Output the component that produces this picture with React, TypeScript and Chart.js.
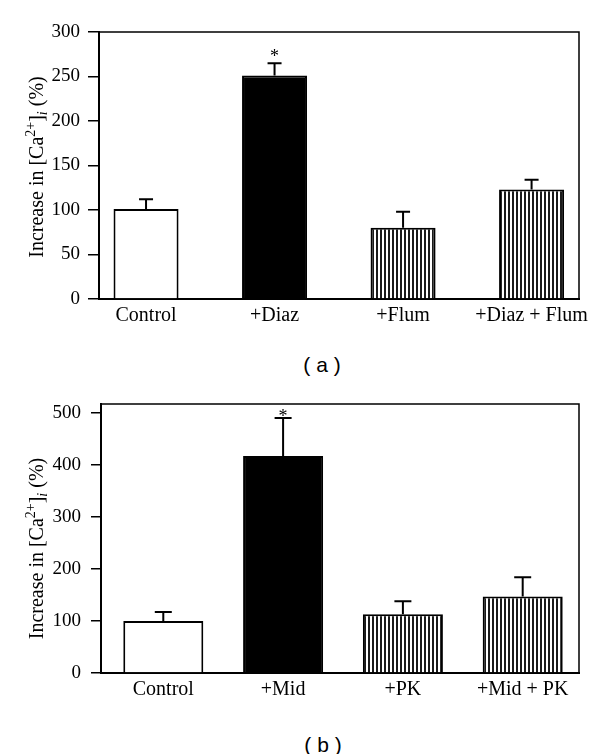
import React, { useEffect, useRef } from "react";
import { Chart, registerables } from "chart.js";

Chart.register(...registerables);

// ---------- Data ----------
const categoriesA = ["Control", "+Diaz", "+Flum", "+Diaz + Flum"];
const meansA = [101, 251, 80, 123];
const errorsA = [11, 14, 18, 11];
const starsA = [false, true, false, false];
const yTicksA = [0, 50, 100, 150, 200, 250, 300];

const categoriesB = ["Control", "+Mid", "+PK", "+Mid + PK"];
const meansB = [100, 417, 113, 147];
const errorsB = [17, 73, 25, 37];
const starsB = [false, true, false, false];
const yTicksB = [0, 100, 200, 300, 400, 500];

const fillKinds = ["white", "black", "hatch", "hatch"];

const SERIF = "'Liberation Serif', 'Times New Roman', serif";
const SANS = "'Liberation Sans', Arial, sans-serif";

type PanelCfg = {
  categories: string[];
  means: number[];
  errors: number[];
  stars: boolean[];
  yTicks: number[];
  yMax: number;
  xMin: number;
  xMax: number;
  barPct: number;
  capHalf: number;
  tickLen: number;
  tickPad: number;
  yAxisW: number;
  xAxisH: number;
  padTop: number;
  titleX: number;
  titleCY: number;
  starDy: number;
};

const panelA: PanelCfg = {
  categories: categoriesA,
  means: meansA,
  errors: errorsA,
  stars: starsA,
  yTicks: yTicksA,
  yMax: 300,
  xMin: -0.366,
  xMax: 3.369,
  barPct: 0.506,
  capHalf: 7,
  tickLen: 11,
  tickPad: 8,
  yAxisW: 99,
  xAxisH: 41,
  padTop: 32,
  titleX: 43,
  titleCY: 167,
  starDy: -1,
};

const panelB: PanelCfg = {
  categories: categoriesB,
  means: meansB,
  errors: errorsB,
  stars: starsB,
  yTicks: yTicksB,
  yMax: 517,
  xMin: -0.52,
  xMax: 3.47,
  barPct: 0.668,
  capHalf: 8.5,
  tickLen: 10,
  tickPad: 10,
  yAxisW: 101,
  xAxisH: 47,
  padTop: 24,
  titleX: 42.5,
  titleCY: 168.5,
  starDy: 4,
};

function makeHatch(): CanvasPattern | string {
  const c = document.createElement("canvas");
  c.width = 4;
  c.height = 4;
  const ctx = c.getContext("2d");
  if (!ctx) return "#888";
  ctx.fillStyle = "#ffffff";
  ctx.fillRect(0, 0, 4, 4);
  ctx.fillStyle = "#1a1a1a";
  ctx.fillRect(0, 0, 2, 4);
  return ctx.createPattern(c, "repeat") || "#888";
}

function buildChart(canvas: HTMLCanvasElement, p: PanelCfg) {
  const hatch = makeHatch();
  const fills = fillKinds.map((k) =>
    k === "hatch" ? hatch : k === "black" ? "#000000" : "#ffffff"
  );

  const errorPlugin = {
    id: "errorBars",
    afterDatasetsDraw(chart: any) {
      const ctx = chart.ctx;
      const meta = chart.getDatasetMeta(0);
      const y = chart.scales.y;
      ctx.save();
      ctx.strokeStyle = "#000";
      ctx.lineWidth = 2;
      meta.data.forEach((bar: any, i: number) => {
        const x = bar.x;
        const yb = y.getPixelForValue(p.means[i]);
        const yt = y.getPixelForValue(p.means[i] + p.errors[i]);
        ctx.beginPath();
        ctx.moveTo(x, yb);
        ctx.lineTo(x, yt);
        ctx.moveTo(x - p.capHalf, yt);
        ctx.lineTo(x + p.capHalf, yt);
        ctx.stroke();
        if (p.stars[i]) {
          ctx.fillStyle = "#000";
          ctx.font = `18px ${SERIF}`;
          ctx.textAlign = "center";
          ctx.textBaseline = "alphabetic";
          ctx.fillText("*", x, yt + p.starDy);
        }
      });
      ctx.restore();
    },
  };

  const framePlugin = {
    id: "frame",
    afterDraw(chart: any) {
      const { left, right, top, bottom } = chart.chartArea;
      const ctx = chart.ctx;
      ctx.save();
      ctx.strokeStyle = "#000";
      ctx.lineWidth = 1.5;
      ctx.beginPath();
      ctx.moveTo(left, top);
      ctx.lineTo(right, top);
      ctx.lineTo(right, bottom);
      ctx.stroke();
      ctx.restore();
    },
  };

  const titlePlugin = {
    id: "yTitle",
    afterDraw(chart: any) {
      const ctx = chart.ctx;
      const parts = [
        { t: "Increase in [Ca", font: `20px ${SERIF}`, dy: 0 },
        { t: "2+", font: `14px ${SERIF}`, dy: -8 },
        { t: "]", font: `20px ${SERIF}`, dy: 0 },
        { t: "i", font: `italic 14px ${SERIF}`, dy: 4 },
        { t: " (%)", font: `20px ${SERIF}`, dy: 0 },
      ];
      ctx.save();
      ctx.translate(p.titleX, p.titleCY);
      ctx.rotate(-Math.PI / 2);
      ctx.fillStyle = "#000";
      ctx.textBaseline = "alphabetic";
      ctx.textAlign = "left";
      let total = 0;
      const widths = parts.map((pt) => {
        ctx.font = pt.font;
        const w = ctx.measureText(pt.t).width;
        total += w;
        return w;
      });
      let x = -total / 2;
      parts.forEach((pt, i) => {
        ctx.font = pt.font;
        ctx.fillText(pt.t, x, pt.dy);
        x += widths[i];
      });
      ctx.restore();
    },
  };

  return new Chart(canvas, {
    type: "bar",
    data: {
      datasets: [
        {
          data: p.means.map((v, i) => ({ x: i, y: v })) as any,
          backgroundColor: fills as any,
          borderColor: "#000",
          borderWidth: 2,
          barPercentage: p.barPct,
          categoryPercentage: 1,
        },
      ],
    },
    options: {
      animation: false,
      responsive: false,
      events: [],
      layout: {
        autoPadding: false,
        padding: { top: p.padTop, right: 21, left: 0, bottom: 0 },
      },
      plugins: {
        legend: { display: false },
        tooltip: { enabled: false },
      },
      scales: {
        x: {
          type: "linear",
          min: p.xMin,
          max: p.xMax,
          offset: false,
          grid: { display: false, offset: false, drawTicks: false },
          border: { display: true, color: "#000", width: 2 },
          afterBuildTicks: (s: any) => {
            s.ticks = p.categories.map((_, i) => ({ value: i }));
          },
          afterFit: (s: any) => {
            s.height = p.xAxisH;
          },
          ticks: {
            color: "#000",
            font: { family: SERIF, size: 20 },
            padding: 5,
            autoSkip: false,
            maxRotation: 0,
            minRotation: 0,
            callback: (v: any) => p.categories[v] ?? "",
          },
        },
        y: {
          type: "linear",
          min: 0,
          max: p.yMax,
          afterBuildTicks: (s: any) => {
            s.ticks = p.yTicks.map((v) => ({ value: v }));
          },
          afterFit: (s: any) => {
            s.width = p.yAxisW;
          },
          grid: {
            drawOnChartArea: false,
            drawTicks: true,
            tickLength: p.tickLen,
            color: "#000",
            lineWidth: 1.5,
          },
          border: { display: true, color: "#000", width: 2 },
          ticks: {
            color: "#000",
            font: { family: SERIF, size: 19 },
            padding: p.tickPad,
          },
        },
      },
    } as any,
    plugins: [errorPlugin, framePlugin, titlePlugin],
  });
}

function Panel({ cfg, top }: { cfg: PanelCfg; top: number }) {
  const ref = useRef<HTMLCanvasElement>(null);
  useEffect(() => {
    if (!ref.current) return;
    const chart = buildChart(ref.current, cfg);
    return () => chart.destroy();
  }, [cfg]);
  return (
    <canvas
      ref={ref}
      width={600}
      height={340}
      style={{ position: "absolute", left: 0, top, width: 600, height: 340 }}
    />
  );
}

const captionStyle: React.CSSProperties = {
  position: "absolute",
  width: 100,
  height: 24,
  lineHeight: "24px",
  textAlign: "center",
  fontFamily: SANS,
  fontSize: 21,
  color: "#000",
  whiteSpace: "pre",
};

export default function App() {
  return (
    <div
      style={{
        position: "absolute",
        left: 0,
        top: 0,
        width: 600,
        height: 754,
        background: "#fff",
        overflow: "hidden",
      }}
    >
      <Panel cfg={panelA} top={0} />
      <div style={{ ...captionStyle, left: 272, top: 353 }}>( a )</div>
      <Panel cfg={panelB} top={380} />
      <div style={{ ...captionStyle, left: 273, top: 733 }}>( b )</div>
    </div>
  );
}
